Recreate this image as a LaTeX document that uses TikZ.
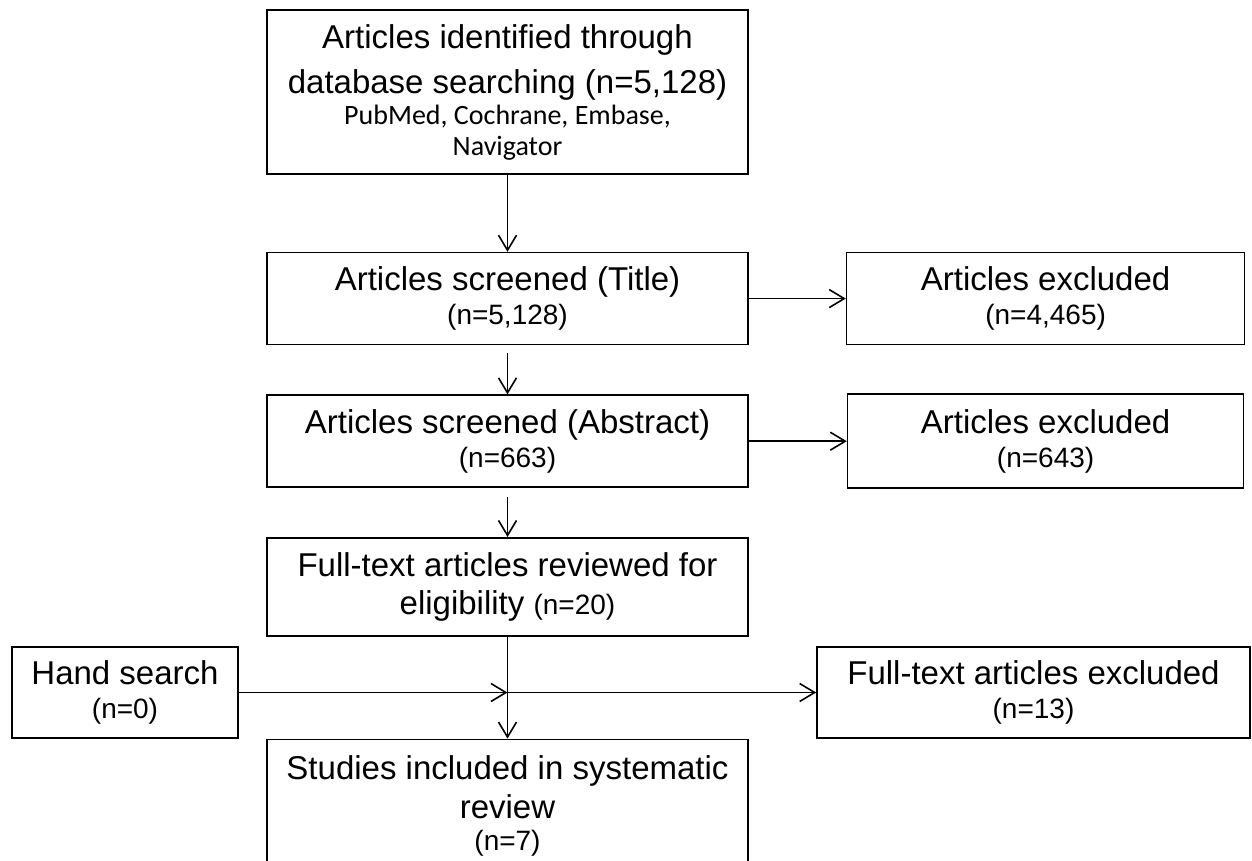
\documentclass[tikz,border=0pt]{standalone}
\usepackage{fontspec}
\setmainfont{Liberation Sans}
\newfontfamily\calibri{Carlito}
\usetikzlibrary{arrows.meta,positioning}

\newcommand{\nsmall}[1]{{\fontsize{14}{17}\selectfont #1}}
\newcommand{\nsrc}[1]{{\calibri\fontsize{14}{17}\selectfont #1}}

\begin{document}
\begin{tikzpicture}[x=0.5pt,y=-0.5pt,->,>={Straight Barb[length=7.5pt,width=9pt]},
                    thick,font=\fontsize{16.5}{17}\selectfont]

  \tikzstyle{box} = [draw, rectangle, align=center, inner sep=2pt,
                     minimum width=240.5pt, minimum height=46pt]
  \useasboundingbox (0,0) rectangle (1252,861);

  \node[box, minimum height=82pt] (A) at (507.5,92) {Articles identified through\\[5.5pt]
        database searching (n=5,128)\\[-1.5pt]\nsrc{PubMed, Cochrane, Embase,}\\[-1.5pt]\nsrc{Navigator}};
  \node[box]                        (B) [below=38.5pt of A] {Articles screened (Title)\\ \nsmall{(n=5,128)}};
  \node[box, minimum width=199pt]   (C) [right=48.5pt of B] {Articles excluded\\ \nsmall{(n=4,465)}};
  \node[box]                        (D) [below=24.5pt of B] {Articles screened (Abstract)\\ \nsmall{(n=663)}};
  \node[box, minimum width=198pt, minimum height=47pt] (E) [right=49pt of D] {Articles excluded\\ \nsmall{(n=643)}};
  \node[box, minimum height=49pt]   (F) [below=24.5pt of D] {Full-text articles reviewed for\\[2pt]
        eligibility \nsmall{(n=20)}};
  \node[box, minimum height=67pt]   (I) [below=51pt of F] {Studies included in systematic\\[2.5pt]
        review\\[-1pt]\nsmall{(n=7)}};
  \node[box, minimum width=113pt, minimum height=45.5pt]   (G) at (125,692.5) {Hand search\\ \nsmall{(n=0)}};
  \node[box, minimum width=216.5pt, minimum height=45.5pt] (H) at (1033.5,692.5) {Full-text articles excluded\\ \nsmall{(n=13)}};
  \coordinate (m) at (G.east -| F.south);

  \path (A) edge                  (B)
        (B) edge [shorten <=4pt]  (D)
        (D) edge [shorten <=4.5pt] (F)
        (F) edge                  (I)
        (B) edge                  (C)
        (D) edge                  (E)
        (G) edge                  (m)
        (m) edge                  (H);

\end{tikzpicture}
\end{document}
